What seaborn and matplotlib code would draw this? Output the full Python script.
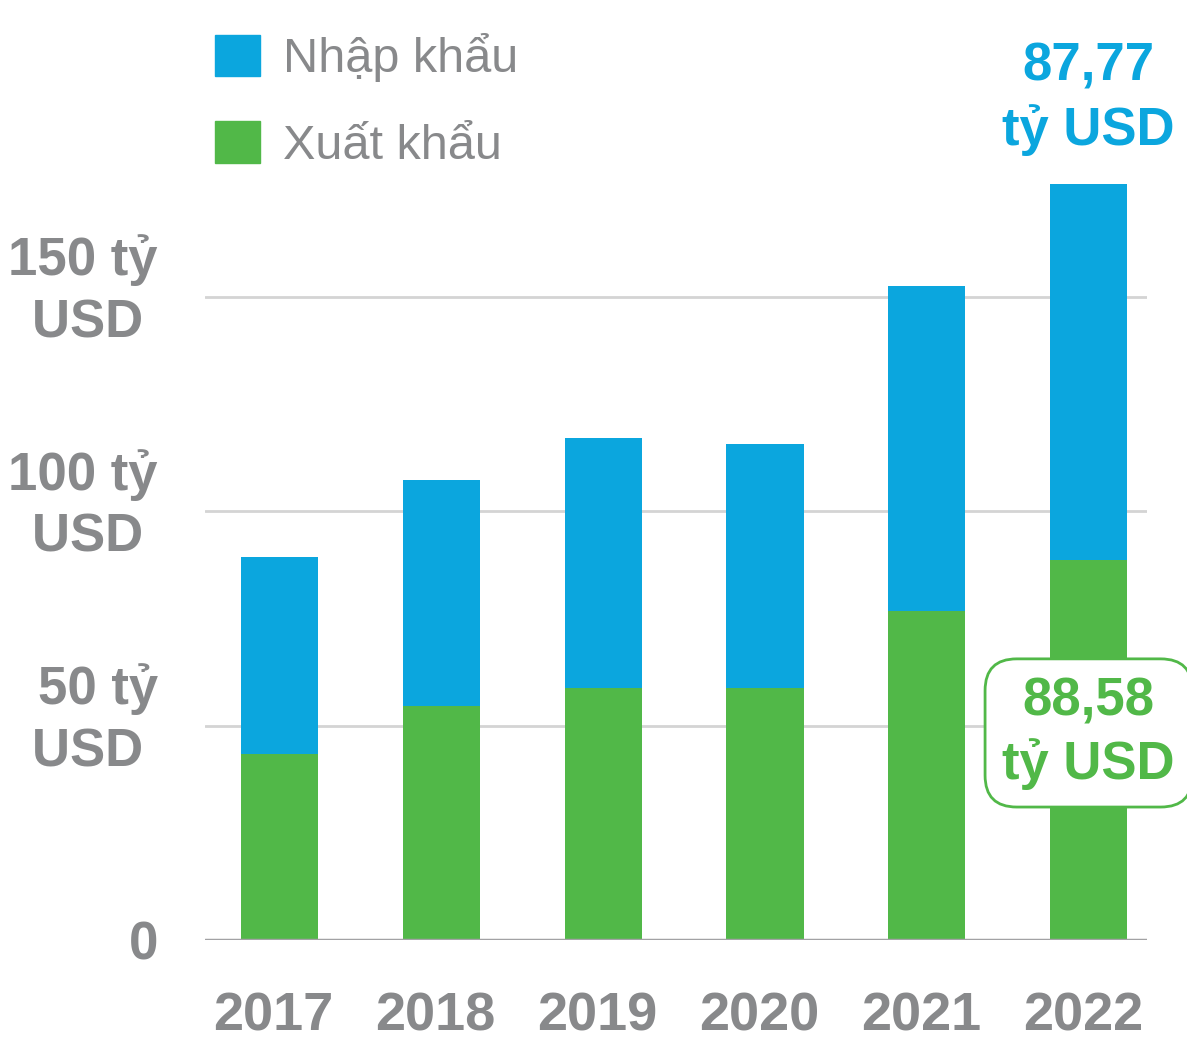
import matplotlib
matplotlib.use("Agg")
import matplotlib.pyplot as plt
import matplotlib.transforms as mtransforms
import seaborn as sns
import pandas as pd
from matplotlib.patches import Patch

# ---- data ----
years = ["2017", "2018", "2019", "2020", "2021", "2022"]
exports = [43.3, 54.6, 58.8, 58.8, 76.7, 88.58]
imports = [46.0, 52.6, 58.4, 57.0, 75.9, 87.77]
ytick_vals = [0, 50, 100, 150]
ytick_labels = ["0", "50 tỷ\nUSD ", "100 tỷ\nUSD ", "150 tỷ\nUSD "]
legend_labels = ["Nhập khẩu", "Xuất khẩu"]
import_note = "87,77\ntỷ USD"
export_note = "88,58\ntỷ USD"

BLUE = "#0BA6DE"
GREEN = "#51B848"
GRAY = "#88898B"

sns.set_theme(style="white")
plt.rcParams["font.family"] = ["Liberation Sans", "DejaVu Sans"]

df = pd.DataFrame({"Năm": years, "Xuất khẩu": exports, "Nhập khẩu": imports})
df["Tổng"] = df["Xuất khẩu"] + df["Nhập khẩu"]

fig = plt.figure(figsize=(11.87, 10.49), dpi=100)
ax = fig.add_axes([205 / 1187, 109 / 1049, 942 / 1187, 771.6 / 1049])

sns.barplot(data=df, x="Năm", y="Tổng", color=BLUE, width=0.476,
            saturation=1, ax=ax, zorder=3, linewidth=0, edgecolor="none")
sns.barplot(data=df, x="Năm", y="Xuất khẩu", color=GREEN, width=0.476,
            saturation=1, ax=ax, zorder=3, linewidth=0, edgecolor="none")

ax.set_ylim(0, 180)
ax.set_xlim(-0.46, 5.36)
ax.set_xlabel("")
ax.set_ylabel("")
for s in ax.spines.values():
    s.set_visible(False)

ax.set_axisbelow(True)
ax.yaxis.grid(True, color="#d4d4d4", lw=2)
ax.axhline(0, color="#a2a2a4", lw=2.5, zorder=4)

ax.set_yticks(ytick_vals)
ax.set_yticklabels(ytick_labels, fontweight="bold", multialignment="right",
                   linespacing=1.31)
ax.set_xticks(range(len(years)))
ax.set_xticklabels(years, fontweight="bold")
ax.tick_params(axis="y", length=0, pad=34, labelsize=38, labelcolor=GRAY)
ax.tick_params(axis="x", length=0, pad=37, labelsize=39, labelcolor=GRAY)

for lab in ax.get_yticklabels():
    if "\n" in lab.get_text():
        lab.set_transform(lab.get_transform() + mtransforms.ScaledTranslation(
            0, 17 / 100, fig.dpi_scale_trans))
for lab in ax.get_xticklabels():
    lab.set_transform(lab.get_transform() + mtransforms.ScaledTranslation(
        -6 / 100, 0, fig.dpi_scale_trans))

handles = [Patch(color=BLUE, label=legend_labels[0]),
           Patch(color=GREEN, label=legend_labels[1])]
fig.legend(handles=handles, loc="upper left",
           bbox_to_anchor=(215 / 1187, 1 - 33 / 1049), frameon=False,
           fontsize=35, handlelength=0.93, handleheight=0.93,
           handletextpad=0.47, labelspacing=0.81, borderpad=0,
           borderaxespad=0, labelcolor=GRAY)

ax.text(5, 196.2, import_note, ha="center", va="center", color=BLUE,
        fontsize=38, fontweight="bold", linespacing=1.3, clip_on=False)
ax.text(5, 48.3, export_note, ha="center", va="center", color=GREEN,
        fontsize=38, fontweight="bold", linespacing=1.28, clip_on=False,
        zorder=6,
        bbox=dict(boxstyle="round,pad=0.33,rounding_size=0.6", fc="white",
                  ec=GREEN, lw=2))

fig.savefig("out.png", dpi=100)
